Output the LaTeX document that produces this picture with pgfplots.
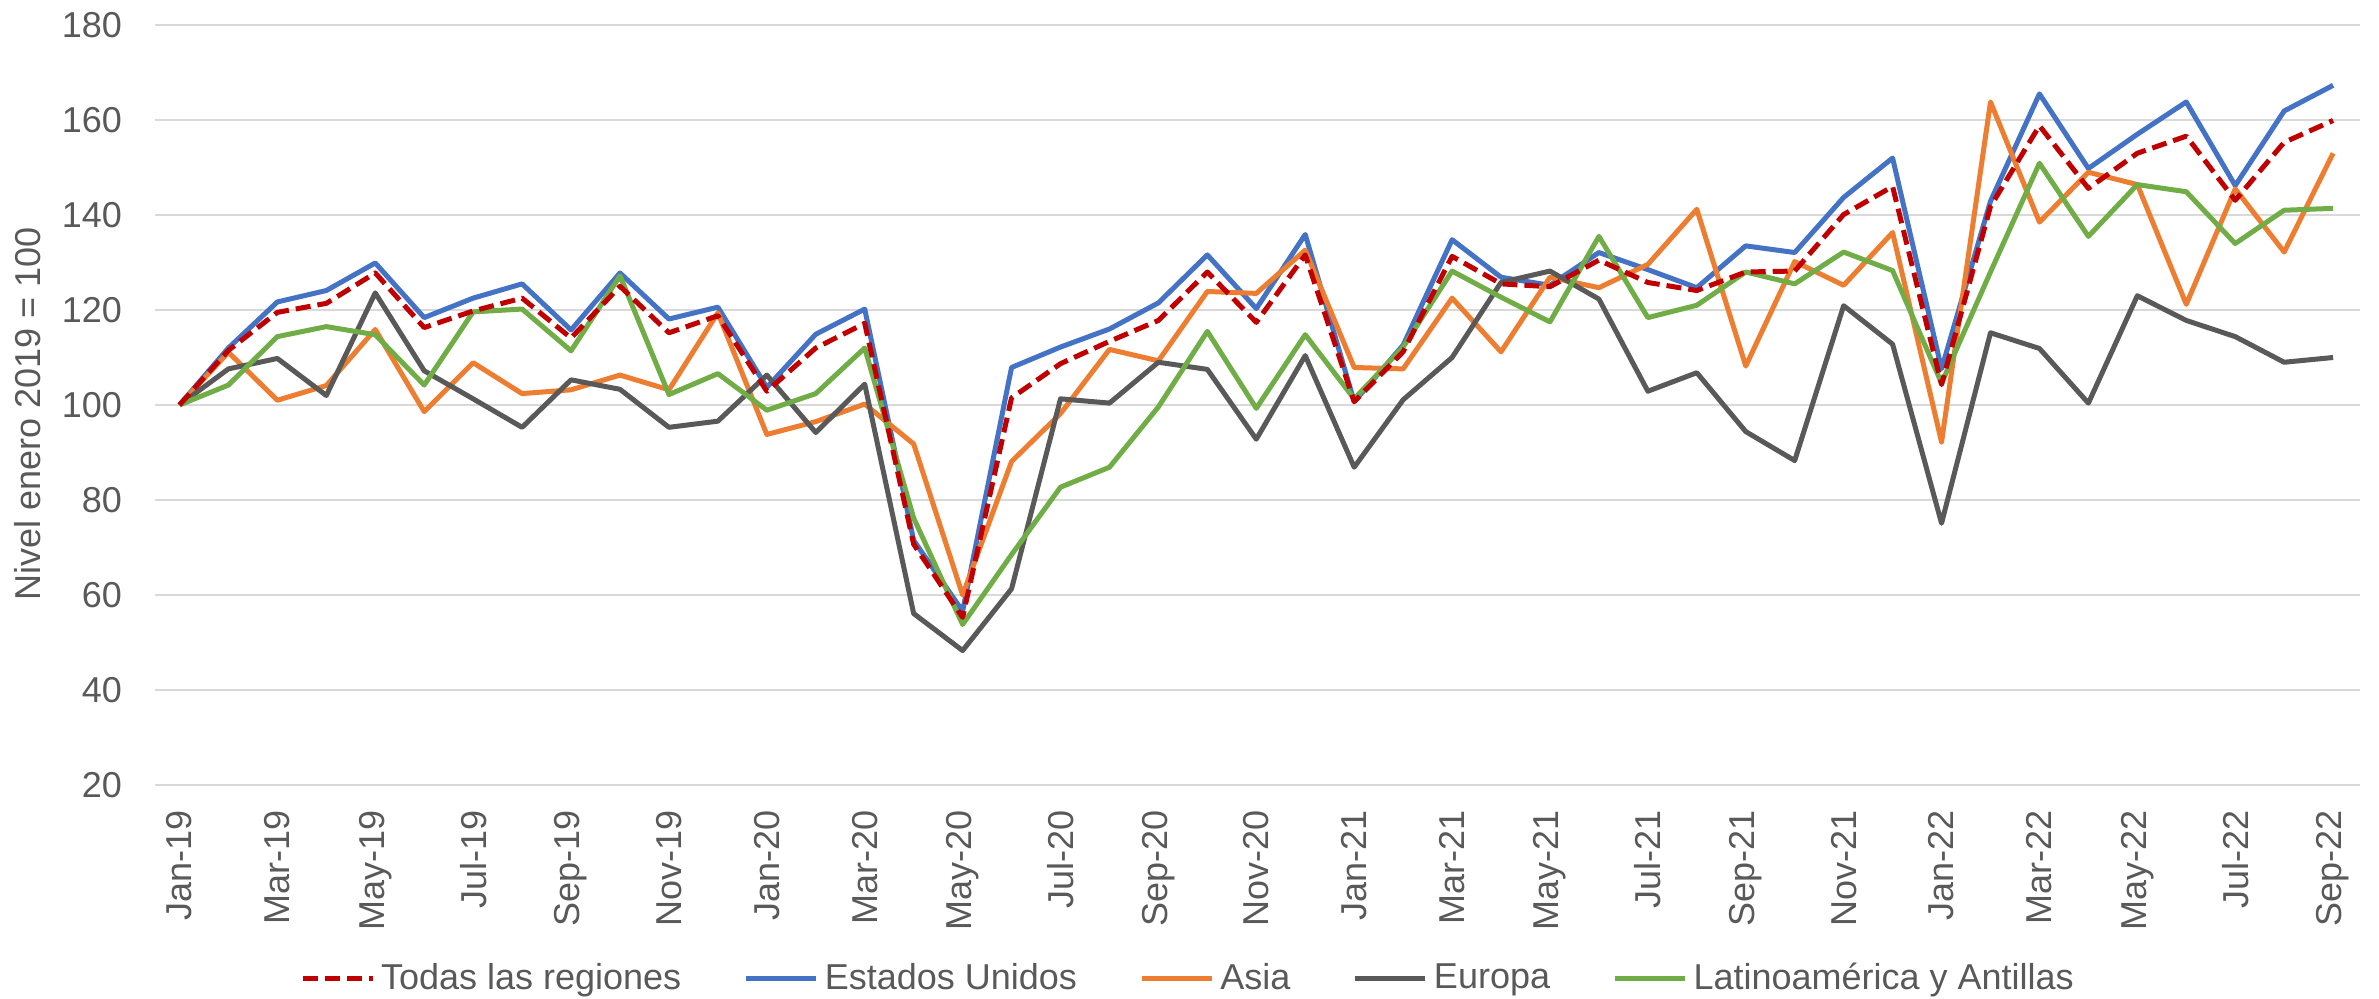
\documentclass[border=0pt]{standalone}
\usepackage{fontspec}
\setmainfont{Liberation Sans}
\usepackage{pgfplots}
\usepackage{pgfplotstable}
\pgfplotsset{compat=1.18}

\definecolor{todas}{HTML}{C00000}
\definecolor{eeuu}{HTML}{4472C4}
\definecolor{asia}{HTML}{ED7D31}
\definecolor{europa}{HTML}{595959}
\definecolor{latam}{HTML}{70AD47}
\definecolor{txt}{HTML}{595959}
\definecolor{grd}{HTML}{D9D9D9}

% m: month index (0 = Jan-19), T U A E L = Todas, EEUU, Asia, Europa, Latinoamerica
\pgfplotstableread{
m T U A E L
0 100 100 100 100 100
1 111.5 112.0 111.1 107.6 104.2
2 119.5 121.7 101.0 109.8 114.4
3 121.4 124.1 104.1 102.0 116.5
4 127.8 129.9 115.9 123.6 114.8
5 116.3 118.4 98.6 107.2 104.2
6 119.8 122.5 108.9 101.3 119.6
7 122.5 125.5 102.4 95.3 120.2
8 114.1 115.8 103.2 105.3 111.4
9 125.0 127.8 106.3 103.3 127.2
10 115.2 118.1 103.2 95.3 102.2
11 118.8 120.6 119.4 96.6 106.6
12 102.9 103.7 93.8 106.3 98.9
13 112.0 114.9 96.5 94.2 102.4
14 117.2 120.2 100.2 104.4 112.0
15 70.7 71.5 91.8 56.1 76.2
16 55.3 56.6 60.0 48.3 53.8
17 101.5 107.9 88.1 61.3 68.5
18 108.7 112.2 98.2 101.3 82.7
19 113.4 116.0 111.7 100.4 86.9
20 117.8 121.5 109.3 109.0 99.6
21 128.0 131.6 123.9 107.5 115.5
22 117.4 120.3 123.5 92.8 99.3
23 131.6 135.9 132.6 110.4 114.8
24 100.7 100.7 107.9 86.9 101.3
25 111.2 112.6 107.6 101.1 112.2
26 131.3 134.8 122.5 110.0 128.2
27 125.5 126.9 111.2 125.8 122.7
28 124.9 125.2 126.9 128.2 117.5
29 130.5 132.1 124.7 122.3 135.5
30 125.8 128.5 129.6 102.9 118.4
31 124.1 124.7 141.2 106.8 121.0
32 128.0 133.5 108.2 94.4 128.0
33 128.2 132.1 130.2 88.3 125.5
34 140.1 143.7 125.2 120.9 132.2
35 146.0 152.0 136.3 112.8 128.3
36 104.3 107.6 92.2 75.1 104.6
37 141.8 142.9 163.8 115.2 128.0
38 158.8 165.5 138.5 111.9 150.9
39 145.6 149.8 149.0 100.4 135.5
40 153.0 157.0 146.4 123.0 146.4
41 156.6 163.8 121.2 117.8 144.9
42 143.1 146.2 145.5 114.4 134.0
43 155.3 161.9 132.2 109.0 141.0
44 159.9 167.3 153.0 110.0 141.4
}\datos

\begin{document}
\begin{tikzpicture}
\useasboundingbox (-62pt,-85.2pt) rectangle (889.6pt,314pt);
\begin{axis}[
    at={(0pt,0pt)}, anchor=south west,
    scale only axis, width=882pt, height=304pt,
    font=\fontsize{14.4}{17}\selectfont,
    xmin=-0.5, xmax=44.55,
    ymin=20, ymax=180,
    ytick={20,40,...,180},
    xtick={0,2,...,44},
    xticklabels={Jan-19,Mar-19,May-19,Jul-19,Sep-19,Nov-19,Jan-20,Mar-20,May-20,Jul-20,Sep-20,Nov-20,Jan-21,Mar-21,May-21,Jul-21,Sep-21,Nov-21,Jan-22,Mar-22,May-22,Jul-22,Sep-22},
    /pgf/number format/assume math mode=true,
    axis line style={draw=none},
    major tick length=0pt,
    ymajorgrids,
    major grid style={grd, line width=0.6pt},
    ticklabel style={text=txt},
    yticklabel style={anchor=east, inner sep=0pt, xshift=-13pt},
    xticklabel style={yshift=-10pt, rotate=90, anchor=east, inner sep=0pt},
    ylabel={Nivel enero 2019 = 100},
    ylabel style={at={(axis description cs:-0.0576,0.488)}, anchor=center, text=txt},
    legend columns=-1,
    legend style={at={(axis description cs:0.468,0)}, yshift=-77.2pt, anchor=center,
        draw=none, fill=none, inner sep=0pt, text=txt,
        nodes={inner sep=0pt},
        /tikz/every odd column/.append style={column sep=2.4pt},
        /tikz/every even column/.append style={column sep=25pt}},
    legend image code/.code={\draw[#1] (0pt,0pt) -- (28pt,0pt);},
    every axis plot/.append style={line width=2pt, line join=round},
]
\addlegendimage{todas, dash pattern=on 6pt off 2.8pt}
\addlegendentry{Todas las regiones}
\addplot[eeuu] table[x=m, y=U] {\datos};
\addlegendentry{Estados Unidos}
\addplot[asia] table[x=m, y=A] {\datos};
\addlegendentry{Asia}
\addplot[europa] table[x=m, y=E] {\datos};
\addlegendentry{Europa}
\addplot[latam] table[x=m, y=L] {\datos};
\addlegendentry{Latinoamérica y Antillas}
\addplot[todas, dash pattern=on 6pt off 2.8pt, forget plot] table[x=m, y=T] {\datos};
\end{axis}
\end{tikzpicture}
\end{document}
